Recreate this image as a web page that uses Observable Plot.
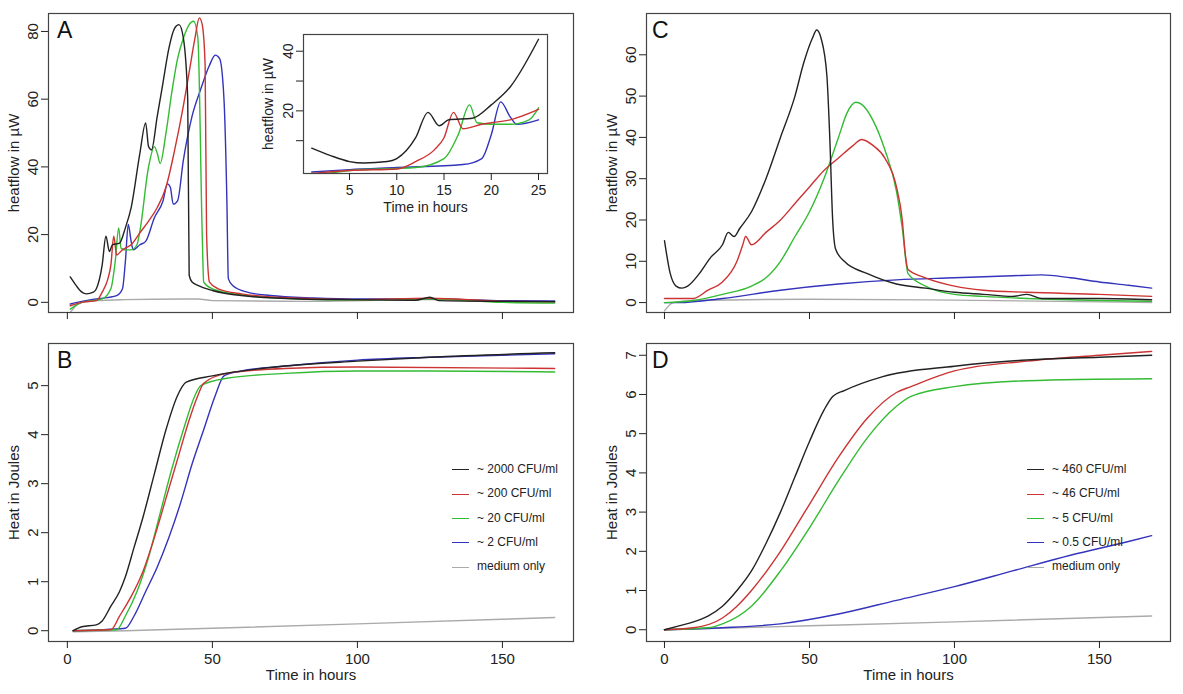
<!DOCTYPE html>
<html><head><meta charset="utf-8">
<script src="https://cdn.jsdelivr.net/npm/d3@7"></script>
<script src="https://cdn.jsdelivr.net/npm/@observablehq/plot@0.6"></script>
<style>
body{margin:0;background:#fff;font-family:"Liberation Sans",Arial,sans-serif}
#c{position:relative;width:1183px;height:694px}
#c svg{position:absolute;left:0;top:0;background:transparent!important}
.lg{position:absolute;font-size:12px;color:#222;white-space:nowrap}
.lg span{display:inline-block;width:17px;height:0;border-top:1.6px solid;vertical-align:middle;margin-right:8px}
.lt{position:absolute;font-size:23px;color:#111}
</style></head><body><div id="c"></div>
<script>
const colors = ["#222222","#cc3333","#33bb33","#3333bb","#aaaaaa"];
const labelsB = ["~ 2000 CFU/ml","~ 200 CFU/ml","~ 20 CFU/ml","~ 2 CFU/ml","medium only"];
const labelsD = ["~ 460 CFU/ml","~ 46 CFU/ml","~ 5 CFU/ml","~ 0.5 CFU/ml","medium only"];
// Panel A heatflow (hours, µW)
const A_2000 = [[1,7.5],[3,5],[5,3],[6.5,2.5],[9,3],[10,4],[12,11],[13.3,19.5],[14.5,15],[15.5,17],[18,17.5],[20,22],[22,28],[25,44],[27,53],[28,46],[29,45],[31,55],[33,65],[35,75],[37,81],[38.5,82],[40,78],[41.5,60],[42,8],[43,6],[45,5],[50,3.5],[60,2],[80,1],[100,0.8],[120,0.6],[125,1.5],[128,0.5],[150,0.3],[168,0.2]];
const A_200 = [[1,-1],[5,0],[10,0.5],[12,3],[14,7],[15,11],[16,19.5],[17,14],[19,15.5],[20,16],[22,17],[25,20.5],[28,24],[31,28],[34,34],[37,45],[40,58],[42,68],[44,78],[45.5,84],[46.5,82],[47.5,70],[48,20],[49,6],[52,4],[60,2.5],[80,1.2],[100,0.8],[125,1.2],[150,0.3],[168,0.2]];
const A_20 = [[1,-2],[5,0],[12,1],[15,4],[16.5,12],[17.7,22],[18.5,16],[20,15.5],[22,15.5],[24,17],[25,21],[28,40],[30,46],[31,44],[32,41],[34,50],[36,62],[38,72],[40,78],[42,82],[43.5,83],[45,78],[46.5,20],[47,6],[50,4],[60,2.2],[80,1],[100,0.7],[125,1],[150,0],[168,-0.2]];
const A_2 = [[1,-0.5],[5,0.3],[10,1],[17,2],[19,4],[20,12],[21,23],[22,18],[22.7,15.5],[25,17],[27,18],[30,25],[33,30],[34.5,35],[35.5,34],[36.5,29],[38,30],[40,42],[43,55],[46,63],[49,70],[51,73],[52.5,72],[54,60],[55,30],[55.5,7],[57,5],[62,3],[70,2],[85,1.3],[100,1],[125,1],[150,0.5],[168,0.4]];
const A_med = [[1,-3],[3,-1],[5,0],[10,0.5],[20,0.8],[40,1],[45,1],[50,0.5],[80,0.3],[125,0.8],[168,0]];
// Panel B heat (hours, J)
const B_2000 = [[2,0],[5,0.08],[10,0.12],[12,0.2],[15,0.5],[18,0.8],[20,1.1],[23,1.7],[26,2.3],[30,3.2],[34,4.1],[38,4.8],[41,5.07],[50,5.2],[75,5.4],[100,5.5],[125,5.58],[168,5.67]];
const B_200 = [[2,0],[15,0.02],[18,0.3],[22,0.7],[26,1.2],[30,1.9],[34,2.7],[38,3.5],[42,4.3],[45,4.8],[47,5.05],[55,5.25],[75,5.35],[100,5.38],[168,5.35]];
const B_20 = [[2,0],[17,0.02],[20,0.3],[24,0.8],[28,1.5],[32,2.4],[36,3.3],[40,4.1],[44,4.8],[46,5.0],[55,5.15],[75,5.25],[100,5.3],[125,5.3],[168,5.28]];
const B_2 = [[2,0],[20,0.05],[23,0.3],[27,0.8],[31,1.3],[35,1.9],[39,2.6],[43,3.4],[47,4.1],[51,4.8],[54,5.2],[60,5.3],[75,5.4],[100,5.52],[125,5.58],[168,5.65]];
const B_med = [[2,-0.02],[20,0],[50,0.05],[100,0.14],[168,0.27]];
// Panel C heatflow
const C_460 = [[0,15],[2,7],[4,4],[6,3.5],[8,4],[12,7],[16,11],[20,14],[22,17],[24,16],[26,18],[30,22],[35,30],[40,40],[45,50],[48,58],[51,64],[52.5,66],[54,64],[56,55],[57,40],[58,20],[59,13],[62,10],[70,7],[80,4.5],[90,3.5],[100,2.5],[110,2],[120,1.5],[125,2],[130,1],[150,1],[168,0.7]];
const C_46 = [[0,1],[10,1],[15,3],[20,5],[25,10],[27,14],[28,16],[30,14],[35,17],[40,20],[45,24],[50,28],[55,32],[60,35],[65,38],[68,39.5],[72,38],[76,35],[80,28],[82,20],[83,12],[84,8],[90,6],[100,4],[110,3],[125,2.5],[150,2],[168,1.5]];
const C_5 = [[0,0],[10,0.5],[20,2],[30,4],[35,6],[40,10],[45,16],[50,22],[55,30],[60,40],[63,46],[66,48.5],[68,48],[72,44],[76,37],[80,27],[82,18],[84,7],[90,4],[100,2],[110,1.5],[125,1],[150,0.5],[168,0.3]];
const C_05 = [[0,0],[5,0],[20,1],[40,3],[60,4.5],[80,5.5],[100,6],[120,6.5],[130,6.7],[140,6],[150,5],[160,4.2],[168,3.5]];
const C_med = [[0,-2],[3,0],[10,0.5],[50,0.8],[100,0.6],[168,0]];
// Panel D heat
const D_460 = [[0,0],[5,0.1],[10,0.2],[15,0.35],[20,0.6],[25,1.0],[30,1.5],[35,2.2],[40,3.0],[45,3.9],[50,4.8],[55,5.6],[58,5.95],[62,6.1],[75,6.45],[100,6.72],[125,6.88],[150,6.95],[168,7.0]];
const D_46 = [[0,0],[10,0.05],[20,0.3],[25,0.6],[30,1.0],[40,2.0],[50,3.2],[60,4.4],[70,5.4],[80,6.05],[85,6.2],[100,6.6],[125,6.85],[150,7.0],[168,7.1]];
const D_5 = [[0,0],[15,0.05],[20,0.15],[30,0.6],[40,1.5],[50,2.6],[60,3.8],[70,4.9],[80,5.7],[85,5.95],[100,6.2],[125,6.35],[168,6.4]];
const D_05 = [[0,0],[20,0.05],[40,0.15],[60,0.4],[80,0.75],[100,1.1],[120,1.5],[140,1.9],[160,2.25],[168,2.4]];
const D_med = [[0,0],[50,0.1],[100,0.2],[168,0.35]];

const W=1183,H=694,font='"Liberation Sans",Arial,sans-serif';
const c=document.getElementById("c");
function panel(series,{x0,x1,y0,y1,xd,yd,yticks,ylab,xlab,xticks=[0,50,100,150],xlabels=true,ylabels=null,fs=15}){
  const marks=[];
  series.forEach((s,i)=>marks.push(Plot.line(s.filter(d=>d[0]>=xd[0]&&d[0]<=xd[1]),{x:d=>d[0],y:d=>d[1],stroke:colors[i],strokeWidth:1.4,curve:"monotone-x",clip:true})));
  marks.reverse();
  marks.push(Plot.frame({stroke:"#444",strokeWidth:1.2}));
  marks.push(Plot.axisX({ticks:xticks,tickSize:7,tickPadding:5,tickFormat:xlabels?d=>d:()=>"",label:xlab,labelAnchor:"center",labelArrow:"none",labelOffset:xlab?38:0,fontSize:fs}));
  marks.push(Plot.axisY({ticks:yticks,tickSize:7,tickPadding:4,tickRotate:-90,tickFormat:ylabels?(d=>ylabels.includes(d)?d:""):(d=>d),label:ylab,labelAnchor:"center",labelArrow:"none",labelOffset:40,fontSize:fs}));
  const p=Plot.plot({width:W,height:H,marginLeft:x0,marginRight:W-x1,marginTop:y0,marginBottom:H-y1,
    style:{fontFamily:font,fontSize:fs+"px",color:"#222",background:"transparent",overflow:"visible"},
    x:{domain:xd},y:{domain:yd},marks});
  c.appendChild(p);
}
const A=[A_2000,A_200,A_20,A_2,A_med], B=[B_2000,B_200,B_20,B_2,B_med], C=[C_460,C_46,C_5,C_05,C_med], D=[D_460,D_46,D_5,D_05,D_med];
panel(A,{x0:48,x1:573,y0:13,y1:312,xd:[-6.5,174.5],yd:[-3,85.3],yticks:[0,20,40,60,80],ylab:"heatflow in µW",xlabels:false});
panel(A.slice(0,4),{x0:303,x1:547,y0:34,y1:173,xd:[0.13,25.95],yd:[-1,45.6],yticks:[10,20,30,40],ylabels:[20,40],xticks:[5,10,15,20,25],ylab:"heatflow in µW",xlab:"Time in hours",fs:14});
panel(B,{x0:48,x1:573,y0:343,y1:641,xd:[-6.5,174.5],yd:[-0.22,5.86],yticks:[0,1,2,3,4,5],ylab:"Heat in Joules",xlab:"Time in hours"});
panel(C,{x0:646,x1:1170,y0:13,y1:312,xd:[-6.2,174.5],yd:[-2.4,70],yticks:[0,10,20,30,40,50,60],ylab:"heatflow in µW",xlabels:false});
panel(D,{x0:646,x1:1170,y0:343,y1:641,xd:[-6.2,174.5],yd:[-0.3,7.3],yticks:[0,1,2,3,4,5,6,7],ylab:"Heat in Joules",xlab:"Time in hours"});
[["A",57,17],["B",57,347],["C",652,17],["D",652,347]].forEach(([t,x,y])=>{const d=document.createElement("div");d.className="lt";d.style.left=x+"px";d.style.top=y+"px";d.textContent=t;c.appendChild(d);});
function legend(labels,x,y){labels.forEach((l,i)=>{const d=document.createElement("div");d.className="lg";d.style.left=x+"px";d.style.top=(y+i*24.3)+"px";const s=document.createElement("span");s.style.borderColor=colors[i];d.appendChild(s);d.appendChild(document.createTextNode(l));c.appendChild(d);});}
legend(labelsB,452,462);
legend(labelsD,1027,462);
</script></body></html>
